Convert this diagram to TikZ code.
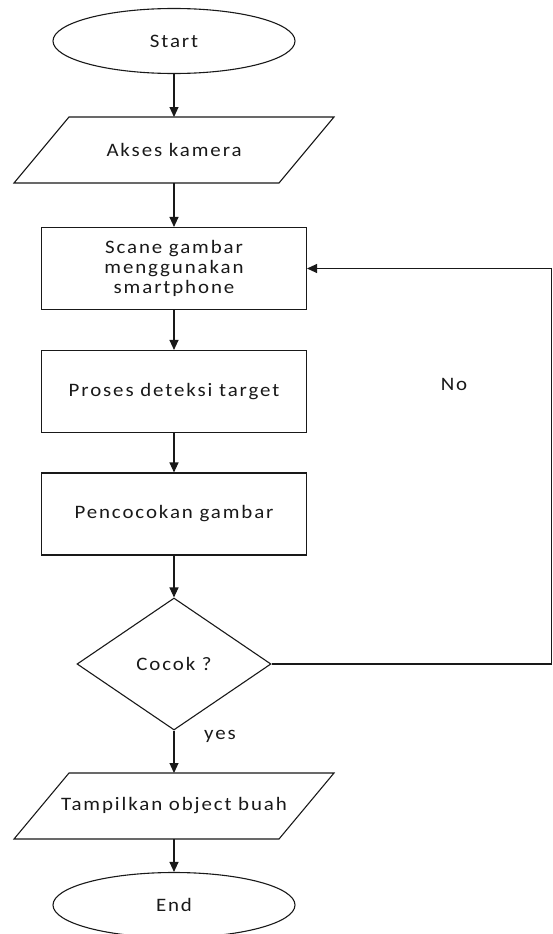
\documentclass[tikz,border=0pt]{standalone}
\usepackage{fontspec}
\setmainfont{Carlito}[FakeStretch=1.1,LetterSpace=10]
\usetikzlibrary{shapes.geometric,arrows.meta}

\begin{document}
\begin{tikzpicture}[x=1pt,y=1pt,>={Triangle[length=10pt,width=9pt]},
  black!90, line width=1.1pt,
  every node/.style={font=\fontsize{19}{20}\selectfont},
  term/.style={draw, ellipse, minimum width=242pt, minimum height=65pt},
  proc/.style={draw, rectangle, minimum width=265pt, minimum height=82pt, align=center},
  io/.style={rectangle, outer sep=0pt, minimum width=320pt, minimum height=66pt},
  decide/.style={draw, diamond, minimum width=194pt, minimum height=132pt}]

\useasboundingbox (0,0) rectangle (552,-934);

% The steps of the flowchart, top to bottom
\node [term] (start) at (174,-41) {Start};
\node [io] (akses) at (174,-150) {Akses kamera};
\node [proc] (scane) at (174,-268.5) {Scane gambar\\menggunakan\\smartphone};
\node [proc] (proses) at (174,-391.5) {Proses deteksi target};
\node [proc] (cocokan) at (174,-514) {Pencocokan gambar};
\node [decide] (cocok) at (174,-664) {Cocok ?};
\node [io] (tampil) at (174,-806) {Tampilkan object buah};
\node [term] (stop) at (174,-905) {End};

% Slanted outline of the input/output steps
\foreach \n in {akses, tampil} {
  \draw ([xshift=55pt]\n.north west) -- (\n.north east)
    -- ([xshift=-55pt]\n.south east) -- (\n.south west) -- cycle;
}

% Branch labels
\node (no) at (454,-384) {No};
\node (yes) at (220,-736) {yes};

% Arrows down the main path
\foreach \a/\b in {start/akses, akses/scane, scane/proses, proses/cocokan,
  cocokan/cocok, cocok/tampil, tampil/stop} {
  \draw [->] (\a) -- (\b);
}

% The "No" loop back to the scan step
\draw [->] (cocok.east) -- ++(279.5,0) |- (scane.east);

\end{tikzpicture}
\end{document}
